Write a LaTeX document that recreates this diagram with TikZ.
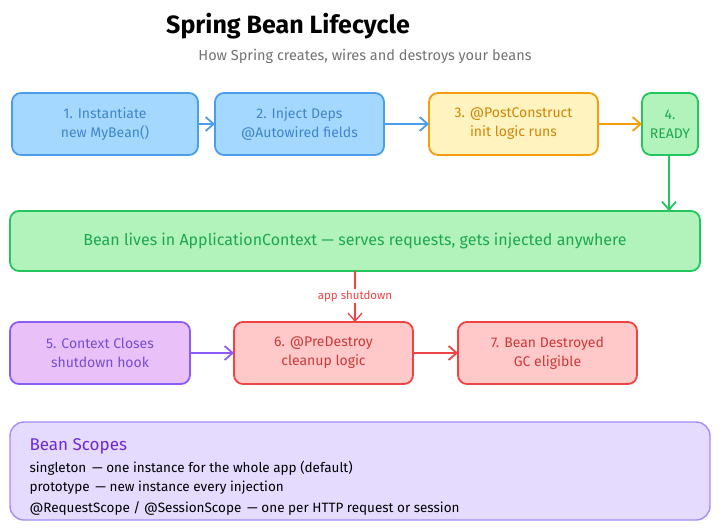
\documentclass[tikz,border=0pt]{standalone}
\usepackage{fontspec}
\setmainfont{Fira Sans}
\usetikzlibrary{arrows.meta}
\definecolor{bfill}{HTML}{A5D8FF}\definecolor{bdraw}{HTML}{4A9EED}
\definecolor{yfill}{HTML}{FFF3BF}\definecolor{ydraw}{HTML}{F59E0B}
\definecolor{gfill}{HTML}{B2F2BB}\definecolor{gdraw}{HTML}{22C55E}
\definecolor{pfill}{HTML}{E9C0F8}\definecolor{pdraw}{HTML}{8B5CF6}
\definecolor{rfill}{HTML}{FFC9C9}\definecolor{rdraw}{HTML}{EF4444}
\definecolor{sfill}{HTML}{E5DBFF}\definecolor{sdraw}{HTML}{A78BFA}
\definecolor{ptext}{HTML}{6D28D9}
\begin{document}
\begin{tikzpicture}[x=1pt,y=-1pt,
 box/.style={rounded corners=9pt,line width=1.8pt,align=center,font=\fontsize{14}{19}\selectfont},
 arr/.style={line width=1.8pt,-{Straight Barb[length=8pt,width=14pt]}}]
\useasboundingbox[fill=white] (0,0) rectangle (720,532);
\node[font=\fontsize{25}{29}\selectfont\bfseries] (title) at (288,26) {Spring Bean Lifecycle};
\node[font=\fontsize{14.5}{18}\selectfont,text=gray!90!black] (sub) at (365,56) {How Spring creates, wires and destroys your beans};
\def\bx#1#2#3#4#5#6#7#8{\draw[box,fill=#6,draw=#7] (#2,#3) rectangle (#4,#5) node[midway,text=#7!85!black] (#1) {#8};}
\bx{n1}{12}{93}{198}{155}{bfill}{bdraw}{1. Instantiate\\new MyBean()}
\bx{n2}{215}{93}{384}{155}{bfill}{bdraw}{2. Inject Deps\\@Autowired fields}
\bx{n3}{429}{93}{598}{155}{yfill}{ydraw}{3. @PostConstruct\\init logic runs}
\bx{n4}{642}{93}{698}{155}{gfill}{gdraw}{4.\\READY}
\draw[box,fill=gfill,draw=gdraw] (10,211) rectangle (700,271) node[midway,text=gdraw!85!black,font=\fontsize{16}{19}\selectfont] (ctx) {Bean lives in ApplicationContext — serves requests, gets injected anywhere};
\bx{n5}{10}{322}{190}{384}{pfill}{pdraw}{5. Context Closes\\shutdown hook}
\bx{n6}{234}{322}{413}{384}{rfill}{rdraw}{6. @PreDestroy\\cleanup logic}
\bx{n7}{458}{322}{637}{384}{rfill}{rdraw}{7. Bean Destroyed\\GC eligible}
\draw[rounded corners=14pt,line width=1.4pt,fill=sfill,draw=sdraw] (10,422) rectangle (710,520);
\node[anchor=west,text=ptext,font=\fontsize{17}{20}\selectfont] (sh) at (26,446) {Bean Scopes};
\node[anchor=west,font=\fontsize{13.5}{16}\selectfont] (s1) at (26,468) {singleton \,— one instance for the whole app (default)};
\node[anchor=west,font=\fontsize{13.5}{16}\selectfont] (s2) at (26,488) {prototype \,— new instance every injection};
\node[anchor=west,font=\fontsize{13.5}{16}\selectfont] (s3) at (26,508) {@RequestScope / @SessionScope \,— one per HTTP request or session};
\draw[arr,draw=bdraw] (198,124) -- (215,124);
\draw[arr,draw=bdraw] (384,124) -- (429,124);
\draw[arr,draw=ydraw] (598,124) -- (642,124);
\draw[arr,draw=gdraw] (669,155) -- (669,211);
\draw[arr,draw=rdraw,line width=1.3pt] (355,271) -- (355,322);
\node[fill=white,inner sep=1pt,text=rdraw,font=\fontsize{11.5}{13}\selectfont] (lab) at (355,296) {app shutdown};
\draw[arr,draw=pdraw] (190,353) -- (234,353);
\draw[arr,draw=rdraw] (413,353) -- (458,353);
\end{tikzpicture}
\end{document}
